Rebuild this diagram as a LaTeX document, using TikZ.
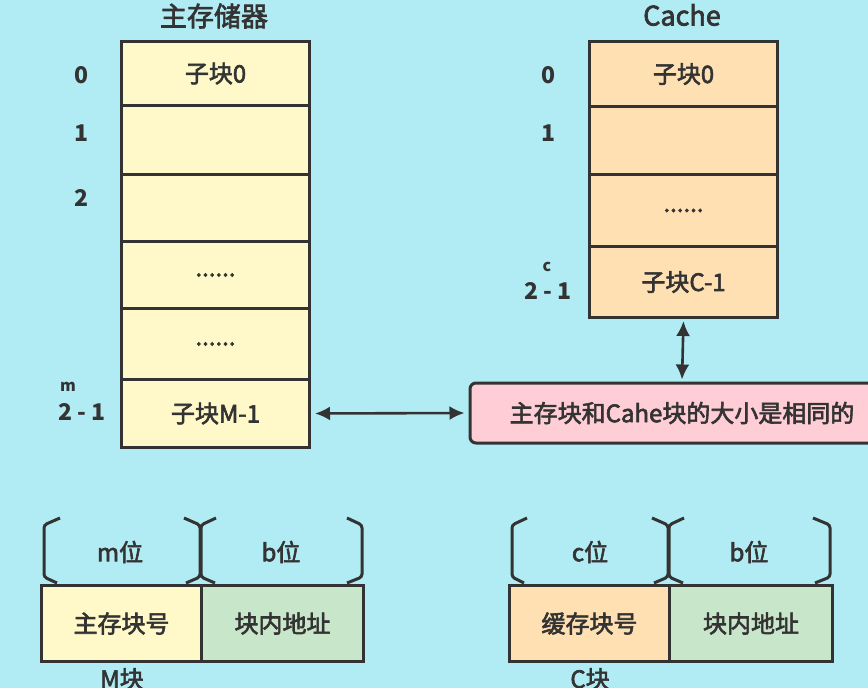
\documentclass[tikz,border=0pt]{standalone}
\usepackage{fontspec}
\setmainfont{Noto Sans CJK SC}[UprightFeatures={FakeBold=2.5}]
\usetikzlibrary{arrows.meta}
\definecolor{bgc}{RGB}{177,235,243}
\definecolor{linec}{RGB}{51,51,51}
\definecolor{yellowc}{RGB}{255,249,201}
\definecolor{orangec}{RGB}{255,224,178}
\definecolor{greenc}{RGB}{200,230,201}
\definecolor{pinkc}{RGB}{255,205,213}
\tikzset{
  txt/.style={text=linec, font=\fontsize{24}{28}\selectfont, inner sep=0pt},
  ttl/.style={text=linec, font=\fontsize{27}{31}\selectfont, inner sep=0pt},
  lbl/.style={text=linec, font=\fontsize{23}{27}\selectfont\bfseries, inner sep=0pt},
  suplbl/.style={text=linec, font=\fontsize{16}{18}\selectfont\bfseries, inner sep=0pt},
  mcell/.style={draw=linec, fill=yellowc, line width=3pt, minimum width=188pt, anchor=north west, inner sep=0pt, text=linec, font=\fontsize{24}{28}\selectfont},
  ccell/.style={mcell, fill=orangec},
  fcell/.style={draw=linec, line width=3pt, minimum width=161pt, minimum height=76pt, anchor=north west, inner sep=0pt, text=linec, font=\fontsize{24}{28}\selectfont},
  brk/.style={draw=linec, line width=3pt, rounded corners=3pt},
  dbl/.style={draw=linec, line width=2.6pt, {Latex[length=15pt,width=14pt]}-{Latex[length=15pt,width=14pt]}},
}
\begin{document}
\begin{tikzpicture}[x=1pt,y=-1pt]
\clip (0,0) rectangle (868,688);
\fill[bgc] (0,0) rectangle (868,688);
% main memory
\node[ttl] (tm) at (214,16) {主存储器};
\node[mcell, minimum height=64pt] (m0) at (120,40) {子块0};
\node[mcell, minimum height=69pt] (m1) at (120,104) {};
\node[mcell, minimum height=67pt] (m2) at (120,173) {};
\node[mcell, minimum height=67pt] (m3) at (120,240) {......};
\node[mcell, minimum height=71pt] (m4) at (120,307) {......};
\node[mcell, minimum height=68pt] (m5) at (120,378) {子块M-1};
\node[lbl] (lm0) at (82,75) {0};
\node[lbl] (lm1) at (82,133) {1};
\node[lbl] (lm2) at (82,198) {2};
\node[lbl] (lm5) at (82,412) {2 - 1};
\node[suplbl] (lm5s) at (68,387) {m};
% cache
\node[ttl] (tc) at (682,15) {Cache};
\node[ccell, minimum height=65pt] (c0) at (588,40) {子块0};
\node[ccell, minimum height=68pt] (c1) at (588,105) {};
\node[ccell, minimum height=72pt] (c2) at (588,173) {......};
\node[ccell, minimum height=71pt] (c3) at (588,245) {子块C-1};
\node[lbl] (lc0) at (548,75) {0};
\node[lbl] (lc1) at (548,133) {1};
\node[lbl] (lc3) at (548,291) {2 - 1};
\node[suplbl] (lc3s) at (547,267) {c};
% note
\node[draw=linec, fill=pinkc, line width=3pt, rounded corners=6pt, minimum width=424pt, minimum height=60pt, inner sep=0pt, text=linec, font=\fontsize{24}{28}\selectfont] (note) at (682,413) {主存块和Cahe块的大小是相同的};
\draw[dbl, shorten <=4pt, shorten >=4pt] (m5.east) -- (note.west);
\draw[dbl, shorten <=2pt, shorten >=2pt] (c3.south) -- (note.north);
% M block
\node[fcell, fill=yellowc, minimum width=160pt] (mb1) at (40,584) {主存块号};
\node[fcell, fill=greenc, minimum width=162pt] (mb2) at (200,584) {块内地址};
\node[txt] (mbl) at (122,679) {M块};
\draw[brk] (60,518) -- (44,525) -- (44,577) -- (57,583);
\draw[brk] (184,518) -- (200,525) -- (200,577) -- (186,583);
\draw[brk] (216,518) -- (201,525) -- (201,577) -- (215,583);
\draw[brk] (347,518) -- (362,525) -- (362,577) -- (347,583);
\node[txt] (mbm) at (120,552) {m位};
\node[txt] (mbb) at (281,552) {b位};
% C block
\node[fcell, fill=orangec, minimum width=160pt] (cb1) at (508,584) {缓存块号};
\node[fcell, fill=greenc, minimum width=163pt] (cb2) at (668,584) {块内地址};
\node[txt] (cbl) at (590,679) {C块};
\draw[brk] (527,518) -- (512,525) -- (512,577) -- (524,583);
\draw[brk] (652,518) -- (668,525) -- (668,577) -- (654,583);
\draw[brk] (684,518) -- (669,525) -- (669,577) -- (683,583);
\draw[brk] (813,518) -- (830,525) -- (830,577) -- (815,583);
\node[txt] (cbc) at (590,552) {c位};
\node[txt] (cbb) at (749,552) {b位};
\end{tikzpicture}
\end{document}
